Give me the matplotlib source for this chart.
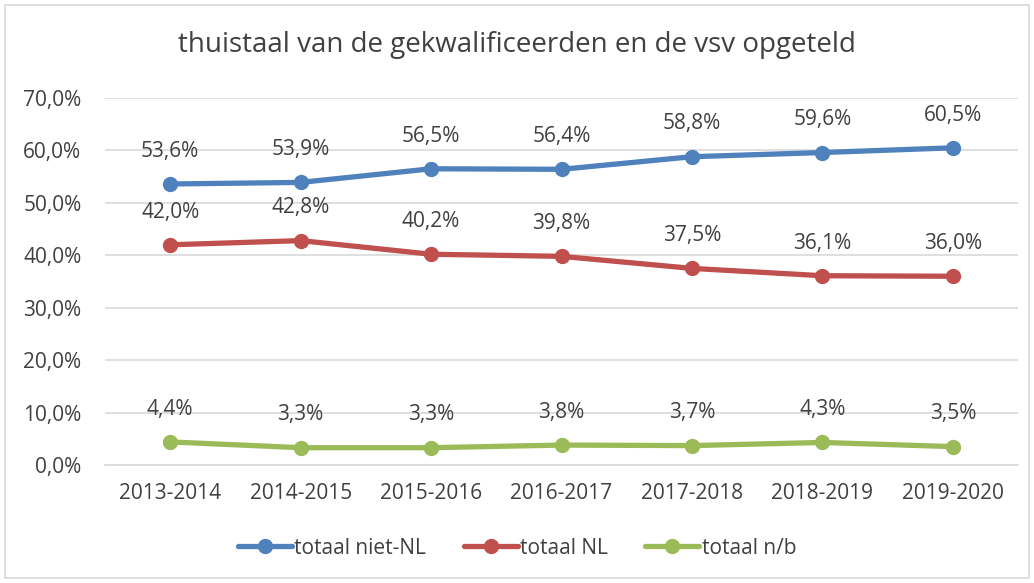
import numpy as np
import matplotlib
matplotlib.use("Agg")
from matplotlib import pyplot as plt
from matplotlib.patches import Rectangle

plt.rcParams['font.family'] = ['Open Sans', 'DejaVu Sans']

jaren = ['2013-2014', '2014-2015', '2015-2016', '2016-2017',
         '2017-2018', '2018-2019', '2019-2020']
niet_nl = [53.6, 53.9, 56.5, 56.4, 58.8, 59.6, 60.5]
nl = [42.0, 42.8, 40.2, 39.8, 37.5, 36.1, 36.0]
nb = [4.4, 3.3, 3.3, 3.8, 3.7, 4.3, 3.5]

series = [('totaal niet-NL', niet_nl, '#4F81BD'),
          ('totaal NL', nl, '#C0504D'),
          ('totaal n/b', nb, '#9BBB59')]

tekst = '#404040'

fig = plt.figure(figsize=(10.34, 5.83), dpi=100)
ax = fig.add_axes([105/1034, 1 - 465/583, (1018-105)/1034, (465-98)/583])

x = np.arange(len(jaren))
for label, vals, kleur in series:
    ax.plot(x, vals, '-o', color=kleur, lw=3.8, ms=10, label=label,
            solid_capstyle='round')
    for xi, v in zip(x, vals):
        ax.annotate(f'{v:.1f}%'.replace('.', ','), (xi, v),
                    xytext=(0, 16), textcoords='offset points',
                    ha='center', va='bottom', fontsize=15, color=tekst)

ax.set_xlim(-0.5, len(jaren) - 0.5)
ax.set_ylim(0, 70)
ax.set_yticks(np.arange(0, 71, 10))
ax.set_yticklabels([f'{t:.1f}%'.replace('.', ',') for t in np.arange(0, 71, 10)])
ax.set_xticks(x)
ax.set_xticklabels(jaren)
ax.tick_params(axis='both', length=0, labelsize=15, colors=tekst)
ax.tick_params(axis='x', pad=13)
ax.tick_params(axis='y', pad=17)
ax.grid(axis='y', color='#D9D9D9', lw=1.2)
ax.set_axisbelow(True)
for s in ['top', 'right', 'left']:
    ax.spines[s].set_visible(False)
ax.spines['bottom'].set_color('#D9D9D9')
ax.spines['bottom'].set_linewidth(1.2)

fig.text(0.5, 1 - 45/583, 'thuistaal van de gekwalificeerden en de vsv opgeteld',
         ha='center', va='center', fontsize=20, color=tekst)

fig.legend(loc='center', bbox_to_anchor=(0.5, 1 - 548/583), ncol=3,
           frameon=False, fontsize=15, labelcolor=tekst, handlelength=2.6,
           columnspacing=1.8, handletextpad=0.1)

fig.patches.append(Rectangle((5/1034, 5/583), 1 - 10/1034, 1 - 10/583,
                             transform=fig.transFigure, fill=False,
                             edgecolor='#D9D9D9', lw=1.2))

fig.savefig('out.png', dpi=100)
